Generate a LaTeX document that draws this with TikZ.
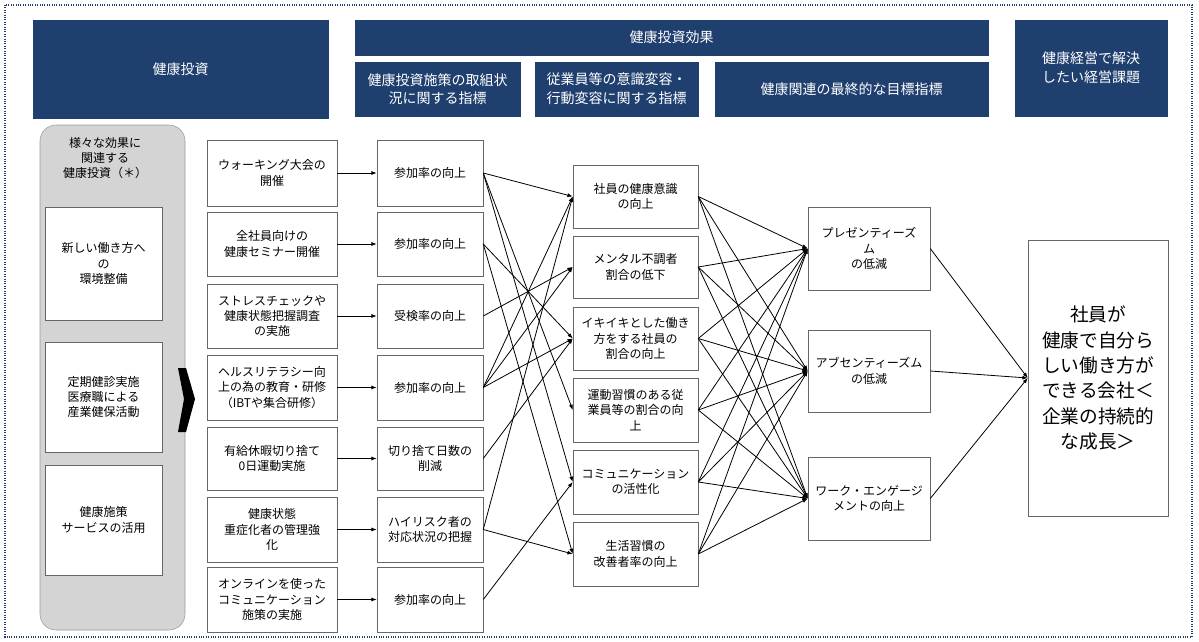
\documentclass[tikz,border=0pt]{standalone}
\usepackage{fontspec}
\setmainfont{Noto Sans CJK JP}
\usetikzlibrary{arrows.meta}
\definecolor{navy}{HTML}{1F3F6E}
\begin{document}
\begin{tikzpicture}[x=0.75pt,y=-0.75pt,
 hdr/.style={fill=navy,draw=navy,text=white,font=\fontsize{10.5}{14}\selectfont,align=center},
 bx/.style={draw=black!60,fill=white,font=\fontsize{9}{11.5}\selectfont,align=center,inner sep=1pt},
 con/.style={-{Latex[length=4pt,width=3pt]},black,line width=0.6pt}]
\useasboundingbox (0,0) rectangle (1199,642);
\draw[navy,densely dotted,thick] (5,5) rectangle (1192,637);
% headers
\node[hdr,minimum width=295*0.75pt,minimum height=98*0.75pt] (h1) at (180.5,69) {健康投資};
\node[hdr,minimum width=633*0.75pt,minimum height=35*0.75pt] (h2) at (671.5,37.5) {健康投資効果};
\node[hdr,minimum width=165*0.75pt,minimum height=54*0.75pt] (h3) at (437.5,89) {健康投資施策の取組状\\況に関する指標};
\node[hdr,minimum width=163*0.75pt,minimum height=54*0.75pt] (h4) at (616.5,89) {従業員等の意識変容・\\行動変容に関する指標};
\node[hdr,minimum width=273*0.75pt,minimum height=54*0.75pt] (h5) at (851.5,89) {健康関連の最終的な目標指標};
\node[hdr,minimum width=152*0.75pt,minimum height=96*0.75pt] (h6) at (1091,68) {健康経営で解決\\したい経営課題};
% column 1
\node[fill=black!17,draw=black!40,rounded corners=12pt,minimum width=145*0.75pt,minimum height=505*0.75pt] (c1) at (112.5,377.5) {};
\node[font=\fontsize{9}{11.5}\selectfont,align=center] (c1t) at (105,158) {様々な効果に\\関連する\\健康投資（＊）};
\node[bx,minimum width=117*0.75pt,minimum height=113*0.75pt] (l1) at (103.5,263.5) {新しい働き方へ\\の\\環境整備};
\node[bx,minimum width=117*0.75pt,minimum height=110*0.75pt] (l2) at (103.5,397) {定期健診実施\\医療職による\\産業健保活動};
\node[bx,minimum width=117*0.75pt,minimum height=110*0.75pt] (l3) at (103.5,520) {健康施策\\サービスの活用};
\fill[black] (178,368) -- (186,368) -- (195,399) -- (186,432) -- (178,432) -- (184,399) -- cycle;
% column 2
\foreach \n/\a/\b/\t in {1/140/206/{ウォーキング大会の\\開催},2/212/276/{全社員向けの\\健康セミナー開催},3/284/348/{ストレスチェックや\\健康状態把握調査\\の実施},4/355/420/{ヘルスリテラシー向\\上の為の教育・研修\\（IBTや集合研修）},5/427/490/{有給休暇切り捨て\\0日運動実施},6/497/562/{健康状態\\重症化者の管理強\\化},7/567/632/{オンラインを使った\\コミュニケーション\\施策の実施}}{
 \node[bx,minimum width=130*0.75pt,minimum height={(\b-\a)*0.75pt}] (s\n) at (272,{(\a+\b)/2}) {\t};}
\foreach \n/\a/\b/\t in {1/140/206/{参加率の向上},2/212/276/{参加率の向上},3/284/348/{受検率の向上},4/355/420/{参加率の向上},5/427/490/{切り捨て日数の\\削減},6/497/562/{ハイリスク者の\\対応状況の把握},7/567/632/{参加率の向上}}{
 \node[bx,minimum width=106*0.75pt,minimum height={(\b-\a)*0.75pt}] (m\n) at (430,{(\a+\b)/2}) {\t};
 \draw[con] (s\n) -- (m\n);}
% column 4
\foreach \n/\a/\b/\t in {A/165/228/{社員の健康意識\\の向上},B/236/298/{メンタル不調者\\割合の低下},C/307/370/{イキイキとした働き\\方をする社員の\\割合の向上},D/378/442/{運動習慣のある従\\業員等の割合の向\\上},E/450/514/{コミュニケーション\\の活性化},F/522/586/{生活習慣の\\改善者率の向上}}{
 \node[bx,minimum width=125*0.75pt,minimum height={(\b-\a)*0.75pt}] (k\n) at (635.5,{(\a+\b)/2}) {\t};}
% column 5
\node[bx,minimum width=122*0.75pt,minimum height=83*0.75pt] (pP) at (869,248.5) {プレゼンティーズ\\ム\\の低減};
\node[bx,minimum width=122*0.75pt,minimum height=82*0.75pt] (pQ) at (869,371) {アブセンティーズム\\の低減};
\node[bx,minimum width=122*0.75pt,minimum height=83*0.75pt] (pR) at (869,498.5) {ワーク・エンゲージ\\メントの向上};
\node[bx,minimum width=140*0.75pt,minimum height=276*0.75pt,font=\fontsize{14}{19}\selectfont] (G) at (1098,378) {社員が\\健康で自分ら\\しい働き方が\\できる会社＜\\企業の持続的\\な成長＞};
% connectors m -> k
\foreach \s/\t in {1/A,1/D,1/E,2/C,2/F,3/B,4/A,4/B,4/C,5/C,6/A,6/F,7/E}{
 \draw[con] (m\s.east) -- (k\t.west);}
\foreach \s in {A,B,C,D,E,F}{\foreach \t in {P,Q,R}{\draw[con] (k\s.east) -- (p\t.west);}}
\foreach \t in {P,Q,R}{\draw[con] (p\t.east) -- (G.west);}
\end{tikzpicture}
\end{document}
